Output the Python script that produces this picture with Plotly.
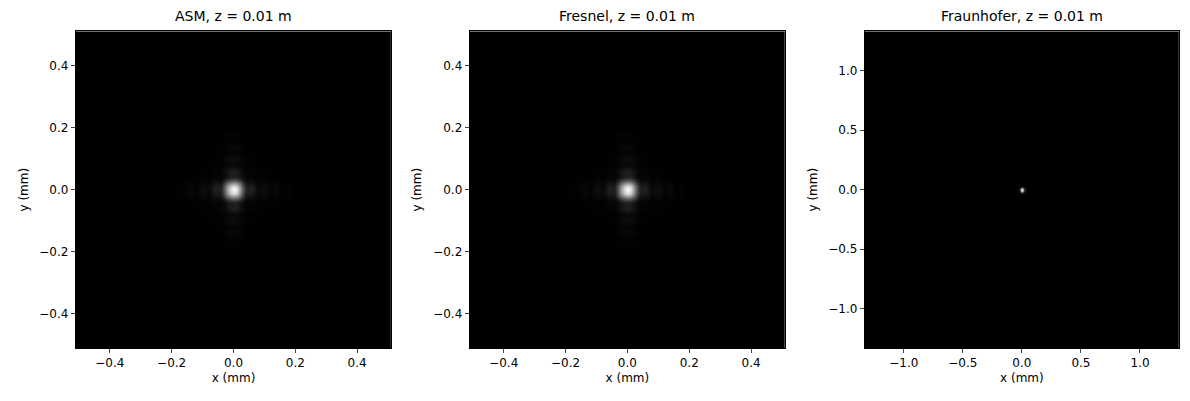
import numpy as np
import plotly.graph_objects as go

titles = ["ASM, z = 0.01 m", "Fresnel, z = 0.01 m", "Fraunhofer, z = 0.01 m"]
extents = [0.51, 0.51, 1.33]
# intensity profile along an axis, samples every 0.01 mm from the centre
profile_near = [1.0, 0.92, 0.68, 0.38, 0.17, 0.15, 0.16, 0.11, 0.05, 0.07, 0.075, 0.05, 0.02, 0.04, 0.045, 0.025, 0.01, 0.02, 0.025, 0.01, 0.0]
profile_far = [1.0, 0.8, 0.3, 0.05, 0.04, 0.0]
profiles = [profile_near, profile_near, profile_far]
xticks = [[-0.4, -0.2, 0.0, 0.2, 0.4], [-0.4, -0.2, 0.0, 0.2, 0.4], [-1.0, -0.5, 0.0, 0.5, 1.0]]
step = 0.01

domains = [[0.057, 0.322], [0.388, 0.653], [0.720, 0.984]]
ydom = [0.152, 0.942]
fig = go.Figure()
font = dict(family="DejaVu Sans", size=12, color="black")
for i in range(3):
    n = int(round(extents[i] / step))
    half = np.zeros(n + 1)
    p = np.array(profiles[i])
    half[:len(p)] = p
    prof = np.concatenate([half[::-1], half[1:]])
    coords = np.arange(-n, n + 1) * step
    z = np.outer(prof, prof)
    ax = "" if i == 0 else str(i + 1)
    fig.add_trace(go.Heatmap(x=coords, y=coords, z=z, colorscale="gray", zmin=0, zmax=1,
                             zsmooth="best", showscale=False, xaxis="x" + ax, yaxis="y" + ax))
    tt = xticks[i]
    fmt = [f"{v:.1f}".replace("-", "−") for v in tt]
    fig.layout["xaxis" + ax] = dict(domain=domains[i], anchor="y" + ax, range=[-extents[i], extents[i]],
        tickvals=tt, ticktext=fmt, ticks="outside", ticklen=4, showgrid=False, zeroline=False,
        showline=True, linecolor="black", mirror=True, tickfont=font,
        title=dict(text="x (mm)", font=font, standoff=4))
    fig.layout["yaxis" + ax] = dict(domain=ydom, anchor="x" + ax, range=[-extents[i], extents[i]],
        tickvals=tt, ticktext=fmt, ticks="outside", ticklen=4, showgrid=False, zeroline=False,
        showline=True, linecolor="black", mirror=True, tickfont=font,
        title=dict(text="y (mm)", font=font, standoff=8))
    fig.add_annotation(text=titles[i], x=sum(domains[i]) / 2, y=ydom[1] + 0.012, xref="paper", yref="paper",
                       showarrow=False, xanchor="center", yanchor="bottom",
                       font=dict(family="DejaVu Sans", size=14, color="black"))

fig.update_layout(width=1190, height=401, margin=dict(l=0, r=0, t=0, b=0),
                  plot_bgcolor="white", paper_bgcolor="white")
fig.write_html("out.html")
